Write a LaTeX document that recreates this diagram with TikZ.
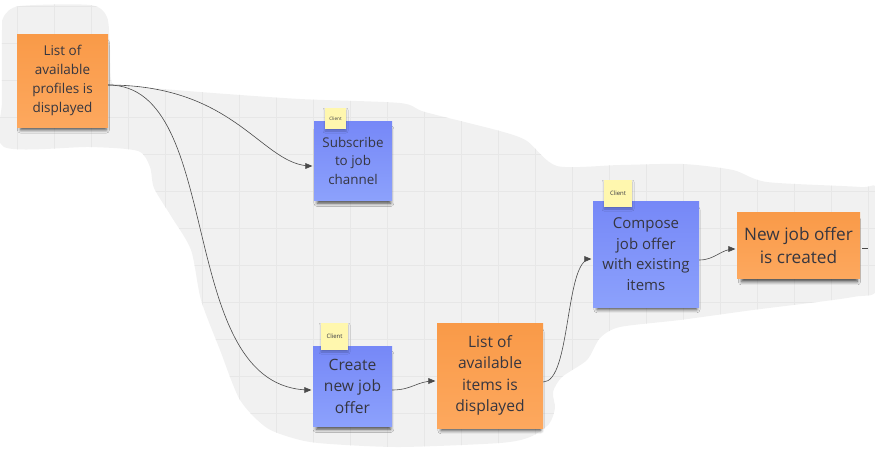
\documentclass[tikz,border=0pt]{standalone}
\usepackage{fontspec}
\setmainfont{Open Sans}
\usetikzlibrary{arrows}
\usetikzlibrary{shapes.geometric, positioning, calc, shadows.blur}
\usepackage{xcolor}

\definecolor{boardgray}{HTML}{F1F1F1}
\definecolor{gridgray}{HTML}{E7E7E7}
\definecolor{eventorange}{HTML}{F99A48}
\definecolor{eventorangelow}{HTML}{FDA85E}
\definecolor{commandblue}{HTML}{7688F7}
\definecolor{commandbluelow}{HTML}{8CA1FC}
\definecolor{tagyellow}{HTML}{FFF7AE}
\definecolor{inkgray}{HTML}{363640}
\definecolor{flowgray}{HTML}{4A4A4A}

\begin{document}
\begin{tikzpicture}[x=1pt, y=-1pt,
    sticky/.style={rectangle, inner sep=0pt, align=center, text=inkgray,
      blur shadow={shadow xshift=1pt, shadow yshift=-6pt, shadow scale=0.94,
        shadow blur radius=3.5pt, shadow opacity=70}},
    event/.style={sticky, top color=eventorange, bottom color=eventorangelow},
    command/.style={sticky, top color=commandblue, bottom color=commandbluelow},
    actor/.style={rectangle, inner sep=0pt, fill=tagyellow, text=inkgray,
      blur shadow={shadow xshift=0pt, shadow yshift=-2pt, shadow blur radius=2pt, shadow opacity=25}},
    flow/.style={draw=flowgray, line width=0.6pt, -triangle 45, shorten >=1.5pt}]

  \useasboundingbox (0,0) rectangle (875,448);

  % board area
  \def\boardpath{plot[smooth cycle, tension=0.45] coordinates {
      (4,16) (20,6) (90,5) (107,17) (110,50) (112,83) (130,86) (200,92) (300,99)
      (400,103) (425,112) (500,131) (527,141) (557,166) (620,165) (683,164)
      (733,170) (767,182) (860,187) (878,192) (878,286) (853,297) (753,310)
      (680,320) (620,327) (600,338) (587,360) (562,377) (553,392) (555,408)
      (549,424) (530,437) (500,443) (400,447) (330,444) (300,440) (267,428)
      (240,400) (220,350) (201,300) (191,250) (171,216) (154,188) (150,167)
      (138,151) (90,147) (4,147) (2,100) (2,30)}}
  \fill[boardgray] \boardpath;
  \begin{scope}
    \clip \boardpath;
    \foreach \gx in {17,54,...,875} \draw[gridgray, line width=0.4pt] (\gx,0) -- (\gx,448);
    \foreach \gy in {6,43,...,448} \draw[gridgray, line width=0.4pt] (0,\gy) -- (875,\gy);
  \end{scope}

  % stickies
  \node[event, minimum width=91pt, minimum height=93pt, font=\fontsize{13.5}{19}\selectfont]
    (profiles) at (62.5,80.5) {List of\\available\\profiles is\\displayed};
  \node[command, minimum width=78pt, minimum height=79pt, font=\fontsize{13.4}{18.5}\selectfont]
    (subscribe) at (353,160.5) {Subscribe\\to job\\channel};
  \node[command, minimum width=79pt, minimum height=80pt, font=\fontsize{15.6}{21.5}\selectfont]
    (create) at (352.5,386) {Create\\new job\\offer};
  \node[event, minimum width=106pt, minimum height=105pt, font=\fontsize{15.6}{21.3}\selectfont]
    (items) at (490,375.5) {List of\\available\\items is\\displayed};
  \node[command, minimum width=106pt, minimum height=106pt, font=\fontsize{15}{20.7}\selectfont]
    (compose) at (646,254) {Compose\\job offer\\with existing\\items};
  \node[event, minimum width=123pt, minimum height=66pt, font=\fontsize{17.2}{23}\selectfont]
    (created) at (798.5,245) {New job offer\\is created};

  % actor tags
  \node[actor, minimum width=21pt, minimum height=21pt, font=\fontsize{4.6}{5}\selectfont]
    (subscribeactor) at (335.5,118.5) {Client};
  \node[actor, minimum width=27pt, minimum height=27pt, font=\fontsize{6}{7}\selectfont]
    (createactor) at (334.5,336.5) {Client};
  \node[actor, minimum width=28pt, minimum height=27pt, font=\fontsize{6}{7}\selectfont]
    (composeactor) at (618,193.5) {Client};

  % connectors
  \draw[flow] ([yshift=-4.5pt]profiles.east) .. controls +(129,0) and +(-52,0) .. ([yshift=-5.5pt]subscribe.west);
  \draw[flow] ([yshift=-4.5pt]profiles.east) .. controls +(119,0) and +(-140,0) .. ([yshift=-4pt]create.west);
  \draw[flow] ([yshift=-4pt]create.east) .. controls +(20,0) and +(-20,0) .. ([yshift=-5.5pt]items.west);
  \draw[flow] ([yshift=-6.5pt]items.east) .. controls +(28,0) and +(-28,0) .. ([yshift=-5pt]compose.west);
  \draw[flow] ([yshift=-6pt]compose.east) .. controls +(16,0) and +(-16,0) .. ([yshift=-4pt]created.west);
  \coordinate (tail) at (868,248);
  \draw[draw=flowgray, line width=0.6pt] ([xshift=2pt,yshift=-3pt]created.east) -- (tail);

\end{tikzpicture}
\end{document}
